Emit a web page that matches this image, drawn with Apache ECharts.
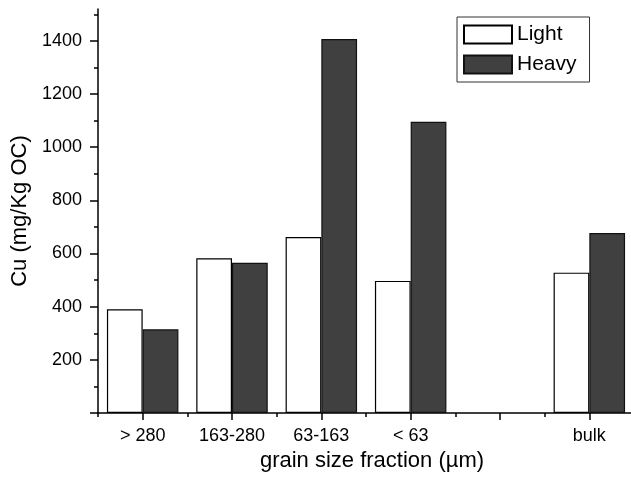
<!DOCTYPE html>
<html>
<head>
<meta charset="utf-8">
<script src="https://cdn.jsdelivr.net/npm/echarts@6/dist/echarts.min.js"></script>
<style>
html,body{margin:0;padding:0;background:#fff;}
#chart{width:631px;height:479px;}
</style>
</head>
<body>
<div id="chart"></div>
<script>
const categories = ['> 280', '163-280', '63-163', '< 63', '', 'bulk'];
const lightValues = [390, 582, 662, 497, null, 528];
const heavyValues = [315, 565, 1407, 1096, null, 677];
const yMajorTicks = [0, 200, 400, 600, 800, 1000, 1200, 1400];
const yTickLabels = [200, 400, 600, 800, 1000, 1200, 1400];
const yMinorTicks = [100, 300, 500, 700, 900, 1100, 1300, 1500];

const FONT = '"Liberation Sans", Arial, Helvetica, sans-serif';
const chart = echarts.init(document.getElementById('chart'), null, {renderer: 'canvas'});

const yCommon = {
  type: 'value', min: 0, max: 1520, gridIndex: 0, position: 'left',
  splitLine: {show: false}
};

chart.setOption({
  animation: false,
  backgroundColor: '#fff',
  textStyle: {fontFamily: FONT},
  grid: {left: 98, top: 9, width: 536, height: 404, containLabel: false, outerBoundsMode: 'none'},
  legend: {
    data: ['Light', 'Heavy'],
    orient: 'vertical',
    left: 457, top: 17,
    padding: [7, 13, 7, 6],
    itemGap: 9,
    itemWidth: 48, itemHeight: 18,
    icon: 'rect',
    borderColor: '#333', borderWidth: 1,
    textStyle: {fontFamily: FONT, fontSize: 21, color: '#000', lineHeight: 18}
  },
  xAxis: [{
    type: 'category', data: categories, gridIndex: 0, position: 'bottom',
    name: 'grain size fraction (\u00b5m)', nameLocation: 'middle', nameGap: 37,
    nameTextStyle: {fontFamily: FONT, fontSize: 22, color: '#000', padding: [0, 0, 0, 12]},
    axisLine: {show: true, lineStyle: {color: '#000', width: 1.5}},
    axisTick: {show: true, alignWithLabel: true, interval: 0, length: 7, lineStyle: {color: '#000', width: 1.5}},
    axisLabel: {interval: 0, margin: 14, fontFamily: FONT, fontSize: 18, color: '#000'},
    splitLine: {show: false}
  }, {
    type: 'category', data: categories, gridIndex: 0, position: 'bottom',
    axisLine: {show: false},
    axisTick: {show: true, alignWithLabel: false, interval: 0, length: 4, lineStyle: {color: '#000', width: 1.5}},
    axisLabel: {show: false},
    splitLine: {show: false}
  }],
  yAxis: [Object.assign({}, yCommon, {
    name: 'Cu (mg/Kg OC)', nameLocation: 'middle', nameGap: 63,
    nameTextStyle: {fontFamily: FONT, fontSize: 22, color: '#000'},
    axisLine: {show: true, lineStyle: {color: '#000', width: 1.5}},
    axisTick: {show: true, length: 8, customValues: yMajorTicks, lineStyle: {color: '#000', width: 1.5}},
    axisLabel: {margin: 16, customValues: yTickLabels, formatter: function (v) { return String(v); },
      fontFamily: FONT, fontSize: 18, color: '#000'}
  }), Object.assign({}, yCommon, {
    axisLine: {show: false},
    axisTick: {show: true, length: 4, customValues: yMinorTicks, lineStyle: {color: '#000', width: 1.5}},
    axisLabel: {show: false}
  })],
  series: [{
    name: 'Light', type: 'bar', xAxisIndex: 0, yAxisIndex: 0,
    data: lightValues,
    barGap: '0%', barCategoryGap: '20%',
    itemStyle: {color: '#ffffff', borderColor: '#000', borderWidth: 1.2}
  }, {
    name: 'Heavy', type: 'bar', xAxisIndex: 0, yAxisIndex: 0,
    data: heavyValues,
    barGap: '0%', barCategoryGap: '20%',
    itemStyle: {color: '#404040', borderColor: '#111', borderWidth: 1.2}
  }]
});
</script>
</body>
</html>
